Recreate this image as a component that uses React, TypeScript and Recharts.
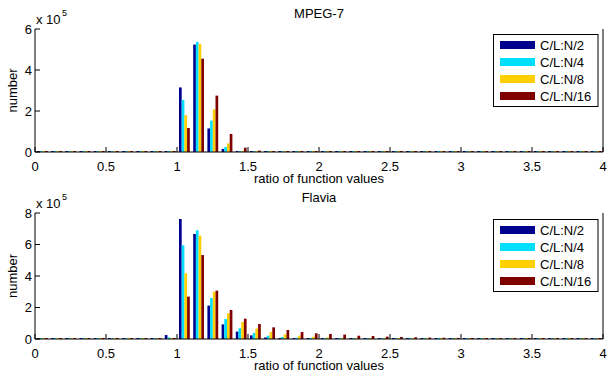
import { BarChart, Bar, XAxis, YAxis } from 'recharts'

// bin centres of the histogram (width 0.1)
const bins = [
  0.05, 0.15, 0.25, 0.35, 0.45, 0.55, 0.65, 0.75, 0.85, 0.95,
  1.05, 1.15, 1.25, 1.35, 1.45, 1.55, 1.65, 1.75, 1.85, 1.95,
  2.05, 2.15, 2.25, 2.35, 2.45, 2.55, 2.65, 2.75, 2.85, 2.95,
  3.05, 3.15, 3.25, 3.35, 3.45, 3.55, 3.65, 3.75, 3.85, 3.95,
]
const xTicks = [0, 0.5, 1, 1.5, 2, 2.5, 3, 3.5, 4]
const mpegYTicks = [0, 200000, 400000, 600000]
const flaviaYTicks = [0, 200000, 400000, 600000, 800000]

const seriesKeys = ['n2', 'n4', 'n8', 'n16']
const seriesNames = ['C/L:N/2', 'C/L:N/4', 'C/L:N/8', 'C/L:N/16']
const seriesColors = ['#00008f', '#00dfff', '#ffcf00', '#800000']

// MPEG-7
const mpegN2 = [
  0, 0, 0, 0, 0, 0, 0, 0, 0, 5000,
  315000, 524000, 115000, 15000, 2000, 1000, 500, 0, 0, 0,
  0, 0, 0, 0, 0, 0, 0, 0, 0, 0,
  0, 0, 0, 0, 0, 0, 0, 0, 0, 0,
]
const mpegN4 = [
  0, 0, 0, 0, 0, 0, 0, 0, 0, 3000,
  254000, 537000, 153000, 24000, 3000, 1000, 500, 0, 0, 0,
  0, 0, 0, 0, 0, 0, 0, 0, 0, 0,
  0, 0, 0, 0, 0, 0, 0, 0, 0, 0,
]
const mpegN8 = [
  0, 0, 0, 0, 0, 0, 0, 0, 0, 2000,
  180000, 527000, 208000, 42000, 5000, 1500, 800, 0, 0, 0,
  0, 0, 0, 0, 0, 0, 0, 0, 0, 0,
  0, 0, 0, 0, 0, 0, 0, 0, 0, 0,
]
const mpegN16 = [
  0, 0, 0, 0, 0, 0, 0, 0, 0, 2000,
  117000, 455000, 275000, 88000, 21000, 7000, 2500, 1500, 500, 0,
  0, 0, 0, 0, 0, 0, 0, 0, 0, 0,
  0, 0, 0, 0, 0, 0, 0, 0, 0, 0,
]

// Flavia
const flaviaN2 = [
  0, 0, 0, 0, 0, 0, 0, 0, 0, 25000,
  762000, 667000, 212000, 93000, 47000, 23000, 10000, 6000, 3000, 2000,
  1000, 500, 0, 0, 0, 0, 0, 0, 0, 0,
  0, 0, 0, 0, 0, 0, 0, 0, 0, 0,
]
const flaviaN4 = [
  0, 0, 0, 0, 0, 0, 0, 0, 0, 10000,
  595000, 690000, 260000, 127000, 68000, 38000, 21000, 13000, 8000, 5000,
  3000, 2000, 1000, 500, 0, 0, 0, 0, 0, 0,
  0, 0, 0, 0, 0, 0, 0, 0, 0, 0,
]
const flaviaN8 = [
  0, 0, 0, 0, 0, 0, 0, 0, 0, 5000,
  417000, 656000, 300000, 163000, 108000, 66000, 44000, 30000, 21000, 15000,
  10000, 6000, 4000, 3000, 2000, 1500, 1000, 500, 0, 0,
  0, 0, 0, 0, 0, 0, 0, 0, 0, 0,
]
const flaviaN16 = [
  0, 0, 0, 0, 0, 0, 0, 0, 0, 3000,
  269000, 533000, 307000, 184000, 129000, 95000, 74000, 57000, 44000, 36000,
  32000, 28000, 21000, 19000, 15000, 13000, 11000, 9000, 8000, 7000,
  5000, 4000, 3000, 2000, 2000, 1000, 1000, 500, 500, 0,
]

const mpegRows = bins.map((x, i) => ({
  x,
  n2: mpegN2[i],
  n4: mpegN4[i],
  n8: mpegN8[i],
  n16: mpegN16[i],
}))
const flaviaRows = bins.map((x, i) => ({
  x,
  n2: flaviaN2[i],
  n4: flaviaN4[i],
  n8: flaviaN8[i],
  n16: flaviaN16[i],
}))

const font = '"Liberation Sans", Arial, Helvetica, sans-serif'
const fs = 13

// matlab style ticks: pointing inwards
const BottomTick = (props: any) => {
  const { x, y, payload } = props
  return (
    <g>
      <line x1={x} y1={y} x2={x} y2={y - 5} stroke="#000" />
      <text x={x} y={y + 19} textAnchor="middle" fontSize={fs} fontFamily={font} fill="#000">
        {payload.value}
      </text>
    </g>
  )
}
const TopTick = (props: any) => {
  const { x, y } = props
  return <line x1={x} y1={y} x2={x} y2={y + 5} stroke="#000" />
}
const LeftTick = (props: any) => {
  const { x, y, payload } = props
  return (
    <g>
      <line x1={x} y1={y} x2={x + 5} y2={y} stroke="#000" />
      <text x={x - 3} y={y + 4.5} textAnchor="end" fontSize={fs} fontFamily={font} fill="#000">
        {payload.value / 100000}
      </text>
    </g>
  )
}
const RightTick = (props: any) => {
  const { x, y } = props
  return <line x1={x} y1={y} x2={x - 5} y2={y} stroke="#000" />
}

interface PanelProps {
  rows: any[]
  yMax: number
  yTicks: number[]
  top: number
  height: number
  marginTop: number
  axisHeight: number
}

const Panel = ({ rows, yMax, yTicks, top, height, marginTop, axisHeight }: PanelProps) => (
  <div style={{ position: 'absolute', left: 0, top }}>
    <BarChart
      width={608}
      height={height}
      data={rows}
      margin={{ top: marginTop, right: 0, bottom: 0, left: 0 }}
      barGap={0}
    >
      <XAxis
        dataKey="x"
        type="number"
        domain={[0, 4]}
        ticks={xTicks}
        interval={0}
        height={axisHeight}
        tickSize={0}
        tickMargin={0}
        tickLine={false}
        tick={<BottomTick />}
        stroke="#000"
      />
      <XAxis
        xAxisId="top"
        orientation="top"
        dataKey="x"
        type="number"
        domain={[0, 4]}
        ticks={xTicks}
        interval={0}
        height={0}
        tickSize={0}
        tickMargin={0}
        tickLine={false}
        tick={<TopTick />}
        stroke="#000"
      />
      <YAxis
        domain={[0, yMax]}
        ticks={yTicks}
        interval={0}
        width={35}
        tickSize={0}
        tickMargin={0}
        tickLine={false}
        tick={<LeftTick />}
        stroke="#000"
      />
      <YAxis
        yAxisId="right"
        orientation="right"
        domain={[0, yMax]}
        ticks={yTicks}
        interval={0}
        width={5}
        tickSize={0}
        tickMargin={0}
        tickLine={false}
        tick={<RightTick />}
        stroke="#000"
      />
      {seriesKeys.map((k, i) => (
        <Bar
          key={k}
          dataKey={k}
          name={seriesNames[i]}
          fill={seriesColors[i]}
          barSize={2.7}
          minPointSize={1}
          isAnimationActive={false}
        />
      ))}
    </BarChart>
  </div>
)

const LegendBox = ({ top }: { top: number }) => (
  <g>
    <rect x={493.5} y={top + 0.5} width={104.5} height={72} fill="#fff" stroke="#000" />
    {seriesNames.map((name, i) => (
      <g key={name}>
        <rect x={500} y={top + 7 + 17 * i} width={35} height={8} fill={seriesColors[i]} />
        <text x={540} y={top + 15.5 + 17 * i} fontSize={fs} fontFamily={font} fill="#000">
          {name}
        </text>
      </g>
    ))}
  </g>
)

const Labels = ({ plotTop, plotBottom, title }: { plotTop: number; plotBottom: number; title: string }) => {
  const mid = (plotTop + plotBottom) / 2
  return (
    <g fontFamily={font} fill="#000">
      <text x={319} y={plotTop - 11} textAnchor="middle" fontSize={fs}>
        {title}
      </text>
      <text x={36} y={plotTop - 5} fontSize={fs}>
        x 10
      </text>
      <text x={62} y={plotTop - 13} fontSize={9}>
        5
      </text>
      <text
        x={17}
        y={mid}
        fontSize={fs}
        textAnchor="middle"
        transform={`rotate(-90 17 ${mid})`}
      >
        number
      </text>
      <text x={319} y={plotBottom + 31} textAnchor="middle" fontSize={fs}>
        ratio of function values
      </text>
    </g>
  )
}

export default function App() {
  return (
    <div style={{ position: 'absolute', left: 0, top: 0, width: 608, height: 371, background: '#fff' }}>
      <Panel rows={mpegRows} yMax={600000} yTicks={mpegYTicks} top={0} height={185} marginTop={29} axisHeight={33} />
      <Panel rows={flaviaRows} yMax={800000} yTicks={flaviaYTicks} top={185} height={186} marginTop={28} axisHeight={32} />
      <svg width={608} height={371} style={{ position: 'absolute', left: 0, top: 0, pointerEvents: 'none' }}>
        <Labels plotTop={29} plotBottom={152} title="MPEG-7" />
        <Labels plotTop={213} plotBottom={339} title="Flavia" />
        <LegendBox top={34} />
        <LegendBox top={219} />
      </svg>
    </div>
  )
}
